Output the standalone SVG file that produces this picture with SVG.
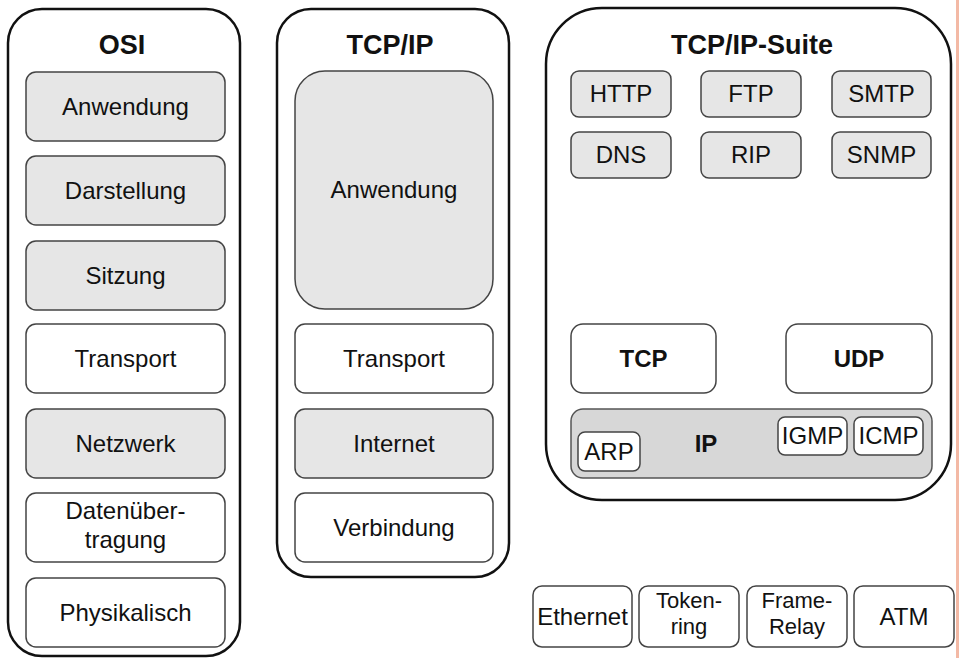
<svg xmlns="http://www.w3.org/2000/svg" width="961" height="658" viewBox="0 0 961 658">
<style>
.cont{fill:#fff;stroke:#111;stroke-width:2.5}
.box{fill:#fff;stroke:#444;stroke-width:1.5}
.gray{fill:#e6e6e6;stroke:#444;stroke-width:1.5}
.ipbar{fill:#d7d7d7;stroke:#555;stroke-width:1.5}
text{font-family:"Liberation Sans",Arial,sans-serif;fill:#111;text-anchor:middle}
.t{font-size:24px}
.s{font-size:22px}
.b{font-size:24px;font-weight:bold}
.h{font-size:27px;font-weight:bold}
</style>
<rect x="0" y="0" width="961" height="658" fill="#fff"/>
<rect x="956" y="0" width="3" height="658" fill="#f3b9a5"/>

<g id="osi">
<rect class="cont" x="8" y="9" width="232" height="647" rx="34"/>
<text class="h" x="122" y="54">OSI</text>
</g>
<g id="osi-anwendung"><rect class="gray" x="26" y="72" width="199" height="69" rx="10"/><text class="t" x="125.5" y="115">Anwendung</text></g>
<g id="osi-darstellung"><rect class="gray" x="26" y="156" width="199" height="69" rx="10"/><text class="t" x="125.5" y="199">Darstellung</text></g>
<g id="osi-sitzung"><rect class="gray" x="26" y="241" width="199" height="69" rx="10"/><text class="t" x="125.5" y="284">Sitzung</text></g>
<g id="osi-transport"><rect class="box" x="26" y="324" width="199" height="69" rx="10"/><text class="t" x="125.5" y="367">Transport</text></g>
<g id="osi-netzwerk"><rect class="gray" x="26" y="409" width="199" height="69" rx="10"/><text class="t" x="125.5" y="452">Netzwerk</text></g>
<g id="osi-daten"><rect class="box" x="26" y="493" width="199" height="69" rx="10"/><text class="t" x="125.5" y="519">Datenüber-</text><text class="t" x="125.5" y="548">tragung</text></g>
<g id="osi-phys"><rect class="box" x="26" y="578" width="199" height="69" rx="10"/><text class="t" x="125.5" y="621">Physikalisch</text></g>

<g id="tcpip">
<rect class="cont" x="277" y="9" width="232" height="568" rx="34"/>
<text class="h" x="390" y="54">TCP/IP</text>
</g>
<g id="tcpip-anwendung"><rect class="gray" x="295" y="71" width="198" height="238" rx="30"/><text class="t" x="394" y="198">Anwendung</text></g>
<g id="tcpip-transport"><rect class="box" x="295" y="324" width="198" height="69" rx="10"/><text class="t" x="394" y="367">Transport</text></g>
<g id="tcpip-internet"><rect class="gray" x="295" y="409" width="198" height="69" rx="10"/><text class="t" x="394" y="452">Internet</text></g>
<g id="tcpip-verbindung"><rect class="box" x="295" y="493" width="198" height="69" rx="10"/><text class="t" x="394" y="536">Verbindung</text></g>

<g id="suite">
<rect class="cont" x="546" y="8" width="405" height="492" rx="56"/>
<text class="h" x="752" y="54">TCP/IP-Suite</text>
</g>
<g id="http"><rect class="gray" x="571" y="71" width="100" height="46" rx="8"/><text class="t" x="621" y="102">HTTP</text></g>
<g id="ftp"><rect class="gray" x="701" y="71" width="100" height="46" rx="8"/><text class="t" x="751" y="102">FTP</text></g>
<g id="smtp"><rect class="gray" x="832" y="71" width="99" height="46" rx="8"/><text class="t" x="881.5" y="102">SMTP</text></g>
<g id="dns"><rect class="gray" x="571" y="132" width="100" height="46" rx="8"/><text class="t" x="621" y="163">DNS</text></g>
<g id="rip"><rect class="gray" x="701" y="132" width="100" height="46" rx="8"/><text class="t" x="751" y="163">RIP</text></g>
<g id="snmp"><rect class="gray" x="832" y="132" width="99" height="46" rx="8"/><text class="t" x="881.5" y="163">SNMP</text></g>
<g id="tcp"><rect class="box" x="571" y="324" width="145" height="69" rx="12"/><text class="b" x="643.5" y="367">TCP</text></g>
<g id="udp"><rect class="box" x="786" y="324" width="146" height="69" rx="12"/><text class="b" x="859" y="367">UDP</text></g>
<g id="ip"><rect class="ipbar" x="571" y="409" width="361" height="69" rx="12"/><text class="b" x="706" y="452">IP</text></g>
<g id="arp"><rect class="box" x="578" y="432" width="62" height="39" rx="7"/><text class="t" x="609" y="460">ARP</text></g>
<g id="igmp"><rect class="box" x="778" y="417" width="69" height="38" rx="7"/><text class="t" x="812.5" y="444">IGMP</text></g>
<g id="icmp"><rect class="box" x="854" y="417" width="69" height="38" rx="7"/><text class="t" x="888.5" y="444">ICMP</text></g>

<g id="ethernet"><rect class="box" x="533" y="586" width="99" height="61" rx="9"/><text class="t" x="582.5" y="625">Ethernet</text></g>
<g id="tokenring"><rect class="box" x="639" y="586" width="100" height="61" rx="9"/><text class="s" x="689" y="608">Token-</text><text class="s" x="689" y="634">ring</text></g>
<g id="framerelay"><rect class="box" x="747" y="586" width="100" height="61" rx="9"/><text class="s" x="797" y="608">Frame-</text><text class="s" x="797" y="634">Relay</text></g>
<g id="atm"><rect class="box" x="854" y="586" width="100" height="61" rx="9"/><text class="t" x="904" y="625">ATM</text></g>

<g id="connectors"></g>
</svg>
